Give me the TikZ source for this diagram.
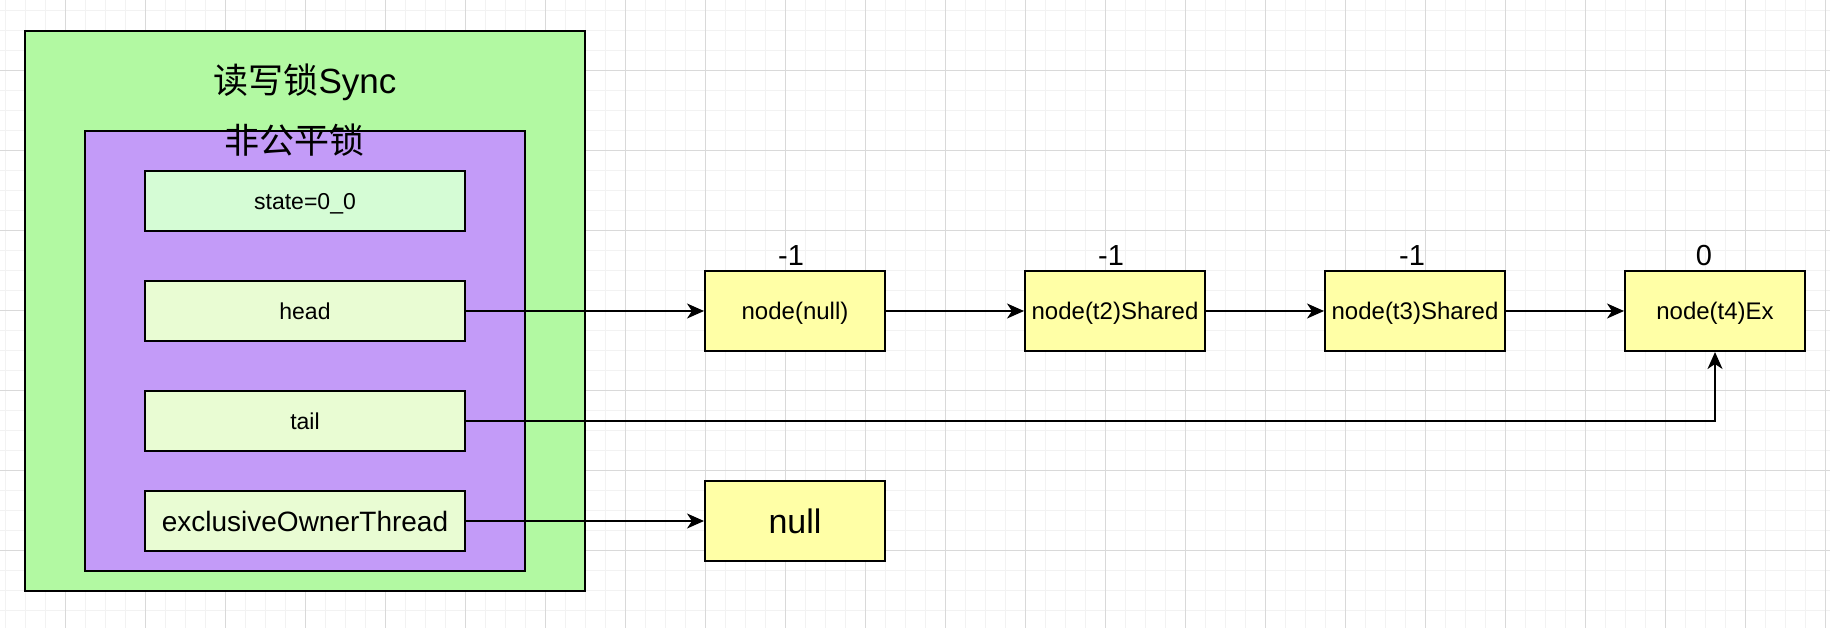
\documentclass[tikz,border=0pt]{standalone}
\usepackage{fontspec}
\setmainfont{Liberation Sans}
\newfontfamily\cjk{Noto Sans CJK SC}
\usetikzlibrary{arrows.meta}
\definecolor{gridminor}{RGB}{242,242,242}
\definecolor{gridmajor}{RGB}{217,217,217}
\definecolor{syncfill}{RGB}{178,249,162}
\definecolor{lockfill}{RGB}{195,155,248}
\definecolor{statefill}{RGB}{213,252,213}
\definecolor{fieldfill}{RGB}{233,252,211}
\definecolor{qfill}{RGB}{255,255,166}
\tikzset{
  every picture/.style={x=0.5pt, y=-0.5pt, line width=1pt},
  box/.style={draw=black, rectangle, inner sep=0pt, text depth=0pt, align=center},
  outer/.style={box, fill=syncfill, minimum width=280pt, minimum height=280pt},
  lock/.style={box, fill=lockfill, minimum width=220pt, minimum height=220pt},
  field/.style={box, fill=fieldfill, minimum width=160pt, minimum height=30pt, text height=8.2pt, font=\fontsize{11.5}{13}\selectfont},
  bigfield/.style={field, text height=10pt, font=\fontsize{14}{16}\selectfont},
  qnode/.style={box, fill=qfill, minimum width=90pt, minimum height=40pt, text height=8.6pt, font=\fontsize{12}{14}\selectfont},
  bignode/.style={qnode, text height=12.2pt, font=\fontsize{17}{20}\selectfont},
  title/.style={inner sep=0pt, anchor=base, font=\fontsize{17.5}{20}\selectfont},
  ws/.style={inner sep=0pt, anchor=base, font=\fontsize{14.5}{16}\selectfont},
  link/.style={-{Stealth[length=8.5pt,width=7.5pt,inset=2.5pt]}, line width=1pt},
}

\begin{document}
\begin{tikzpicture}
  \useasboundingbox[fill=white] (0,0) rectangle (1830,628);
  \foreach \gx in {5,25,...,1825} \draw[gridminor, line width=0.5pt] (\gx,0) -- (\gx,628);
  \foreach \gy in {10,30,...,630} \draw[gridminor, line width=0.5pt] (0,\gy) -- (1830,\gy);
  \foreach \gx in {65,145,...,1825} \draw[gridmajor, line width=0.5pt] (\gx,0) -- (\gx,628);
  \foreach \gy in {70,150,...,630} \draw[gridmajor, line width=0.5pt] (0,\gy) -- (1830,\gy);

  \node[outer] (sync) at (305,311) {};
  \node[title] (syncname) at (305,93) {{\cjk 读写锁}Sync};
  \node[lock] (nonfair) at (305,351) {};
  \node[title] (nonfairname) at (294,153) {\cjk 非公平锁};
  \node[field, fill=statefill] (state) at (305,201) {state=0\_0};
  \node[field] (head) at (305,311) {head};
  \node[field] (tail) at (305,421) {tail};
  \node[bigfield] (owner) at (305,521) {exclusiveOwnerThread};

  \node[qnode] (n1) at (795,311) {node(null)};
  \node[qnode] (n2) at (1115,311) {node(t2)Shared};
  \node[qnode] (n3) at (1415,311) {node(t3)Shared};
  \node[qnode] (n4) at (1715,311) {node(t4)Ex};
  \node[bignode] (ownerval) at (795,521) {null};

  \node[ws] (w1) at (791,265) {-1};
  \node[ws] (w2) at (1111,265) {-1};
  \node[ws] (w3) at (1412,265) {-1};
  \node[ws] (w4) at (1704,265) {0};

  \draw[link] (head) -- (n1);
  \draw[link] (n1) -- (n2);
  \draw[link] (n2) -- (n3);
  \draw[link] (n3) -- (n4);
  \draw[link] (tail) -| (n4);
  \draw[link] (owner) -- (ownerval);
\end{tikzpicture}
\end{document}
